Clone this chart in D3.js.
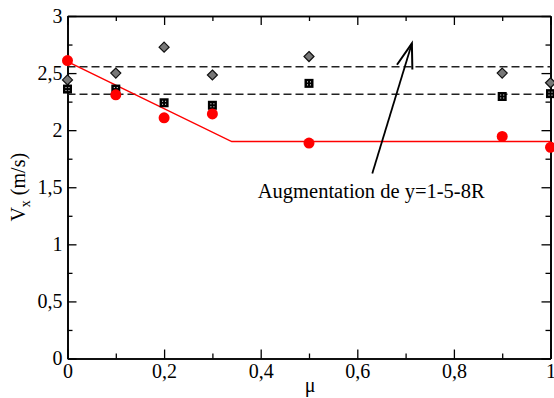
<!DOCTYPE html>
<html>
<head>
<meta charset="utf-8">
<script src="https://cdn.jsdelivr.net/npm/d3@7"></script>
<style>
  html, body { margin: 0; padding: 0; background: #fff; }
  svg { display: block; }
</style>
</head>
<body>
<svg id="chart" width="554" height="398"></svg>
<script>
// ---- data ----
const mu = [0, 0.1, 0.2, 0.3, 0.5, 0.9, 1.0];
const diamondV = [2.44, 2.50, 2.727, 2.483, 2.645, 2.50, 2.415];
const squareV = [2.36, 2.36, 2.24, 2.218, 2.41, 2.295, 2.32];
const circleV = [2.61, 2.31, 2.108, 2.142, 1.887, 1.945, 1.85];
const fitMu = [0, 0.34, 1.0];
const fitV = [2.60, 1.90, 1.90];
const refLines = [2.555, 2.315];
const xTicks = [0, 0.2, 0.4, 0.6, 0.8, 1];
const xMinor = [0.1, 0.3, 0.5, 0.7, 0.9];
const yTicks = [0, 0.5, 1, 1.5, 2, 2.5, 3];
const yMinor = [0.25, 0.75, 1.25, 1.75, 2.25, 2.75];
const annotText = "Augmentation de y=1-5-8R";
const annotPos = [0.394, 1.409];
const arrowFrom = [0.631, 1.62];
const arrowTo = [0.713, 2.76];

// ---- layout ----
const SERIF = "Liberation Serif";
const svg = d3.select("#chart");
const x = d3.scaleLinear().domain([0, 1]).range([67.5, 550.5]);
const y = d3.scaleLinear().domain([0, 3]).range([358.5, 16]);
const fmt = v => d3.format("~g")(v).replace(".", ",");
const FS = 20;

function styleAxis(g) {
  g.attr("font-family", SERIF);
  g.select(".domain").attr("stroke", "#000").attr("stroke-width", 1.6);
  g.selectAll(".tick line").attr("stroke", "#000").attr("stroke-width", 1.3);
  g.selectAll("text").attr("font-size", FS).attr("font-family", SERIF).attr("fill", "#000");
}

// major axes (ticks pointing inward)
svg.append("g").attr("transform", `translate(0,${y(0)})`)
  .call(d3.axisBottom(x).tickValues(xTicks).tickSizeInner(-9).tickSizeOuter(0).tickPadding(5).tickFormat(fmt))
  .call(styleAxis);
svg.append("g").attr("transform", `translate(0,${y(0)})`)
  .call(d3.axisBottom(x).tickValues(xMinor).tickSizeInner(-5).tickSizeOuter(0).tickFormat(""))
  .call(styleAxis);
svg.append("g").attr("transform", `translate(0,${y(3)})`)
  .call(d3.axisTop(x).tickValues(xTicks).tickSizeInner(-9).tickSizeOuter(0).tickFormat(""))
  .call(styleAxis);
svg.append("g").attr("transform", `translate(0,${y(3)})`)
  .call(d3.axisTop(x).tickValues(xMinor).tickSizeInner(-5).tickSizeOuter(0).tickFormat(""))
  .call(styleAxis);
svg.append("g").attr("transform", `translate(${x(0)},0)`)
  .call(d3.axisLeft(y).tickValues(yTicks).tickSizeInner(-9).tickSizeOuter(0).tickPadding(5).tickFormat(fmt))
  .call(styleAxis);
svg.append("g").attr("transform", `translate(${x(0)},0)`)
  .call(d3.axisLeft(y).tickValues(yMinor).tickSizeInner(-5).tickSizeOuter(0).tickFormat(""))
  .call(styleAxis);
svg.append("g").attr("transform", `translate(${x(1)},0)`)
  .call(d3.axisRight(y).tickValues(yTicks).tickSizeInner(-9).tickSizeOuter(0).tickFormat(""))
  .call(styleAxis);
svg.append("g").attr("transform", `translate(${x(1)},0)`)
  .call(d3.axisRight(y).tickValues(yMinor).tickSizeInner(-5).tickSizeOuter(0).tickFormat(""))
  .call(styleAxis);

// axis titles
svg.append("text")
  .attr("x", (x(0) + x(1)) / 2 + 1).attr("y", 392)
  .attr("text-anchor", "middle").attr("font-size", FS).attr("font-family", SERIF).text("μ");
const yl = svg.append("text")
  .attr("transform", `translate(25,${(y(0) + y(3)) / 2}) rotate(-90)`)
  .attr("text-anchor", "middle").attr("font-size", FS).attr("font-family", SERIF);
yl.append("tspan").text("V");
yl.append("tspan").attr("font-size", 14).attr("dy", 5).text("x");
yl.append("tspan").attr("dy", -5).text(" (m/s)");

// dashed reference lines
svg.selectAll(".ref").data(refLines).enter().append("line")
  .attr("x1", x(0)).attr("x2", x(1))
  .attr("y1", d => y(d)).attr("y2", d => y(d))
  .attr("stroke", "#222").attr("stroke-width", 1.6)
  .attr("stroke-dasharray", "8,4");

// red fit line
const fit = fitMu.map((m, i) => [m, fitV[i]]);
svg.append("path").datum(fit)
  .attr("d", d3.line().x(d => x(d[0])).y(d => y(d[1])))
  .attr("fill", "none").attr("stroke", "#ff0000").attr("stroke-width", 1.5);

// diamonds
const dS = 5;
svg.selectAll(".dia").data(mu.map((m, i) => [m, diamondV[i]])).enter().append("path")
  .attr("d", d => { const cx = x(d[0]), cy = y(d[1]);
    return `M${cx},${cy - dS}L${cx + dS},${cy}L${cx},${cy + dS}L${cx - dS},${cy}Z`; })
  .attr("fill", "#777").attr("stroke", "#111").attr("stroke-width", 1.2);

// squares (black with white dots)
const sq = svg.selectAll(".sq").data(mu.map((m, i) => [m, squareV[i]])).enter().append("g")
  .attr("transform", d => `translate(${x(d[0])},${y(d[1])})`);
sq.append("rect").attr("x", -4.5).attr("y", -4.5).attr("width", 9).attr("height", 9).attr("fill", "#000");
[[-2, -2], [1, -2], [-2, 1], [1, 1]].forEach(([dx, dy]) => {
  sq.append("rect").attr("x", dx).attr("y", dy).attr("width", 1).attr("height", 1).attr("fill", "#fff");
});

// red circles
svg.selectAll(".circ").data(mu.map((m, i) => [m, circleV[i]])).enter().append("circle")
  .attr("cx", d => x(d[0])).attr("cy", d => y(d[1])).attr("r", 5.5)
  .attr("fill", "#ff0000");

// annotation
svg.append("text")
  .attr("x", x(annotPos[0])).attr("y", y(annotPos[1]))
  .attr("font-size", 20.5).attr("font-family", SERIF).attr("fill", "#000").text(annotText);
const ax0 = x(arrowFrom[0]), ay0 = y(arrowFrom[1]);
const ax1 = x(arrowTo[0]), ay1 = y(arrowTo[1]);
svg.append("line").attr("x1", ax0).attr("y1", ay0).attr("x2", ax1).attr("y2", ay1)
  .attr("stroke", "#000").attr("stroke-width", 1.8);
const ang = Math.atan2(ay0 - ay1, ax0 - ax1);
const wl = 26, wa = 18 * Math.PI / 180;
const w1 = [ax1 + wl * Math.cos(ang - wa), ay1 + wl * Math.sin(ang - wa)];
const w2 = [ax1 + wl * Math.cos(ang + wa), ay1 + wl * Math.sin(ang + wa)];
svg.append("path")
  .attr("d", `M${w1[0]},${w1[1]}L${ax1},${ay1}L${w2[0]},${w2[1]}`)
  .attr("fill", "none").attr("stroke", "#000").attr("stroke-width", 2);
</script>
</body>
</html>
